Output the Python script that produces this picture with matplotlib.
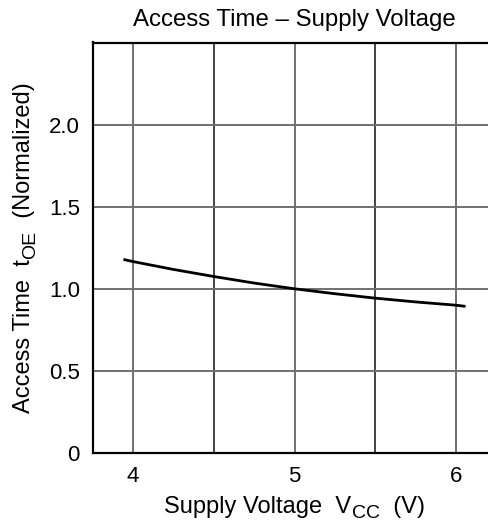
import matplotlib
matplotlib.use("Agg")
import matplotlib.pyplot as plt
from matplotlib.transforms import IdentityTransform

plt.rcParams['font.family'] = ['Liberation Sans', 'DejaVu Sans']

# data
vcc = [3.95, 4.0, 4.25, 4.5, 4.75, 5.0, 5.25, 5.5, 5.75, 6.0, 6.05]
t_oe = [1.177, 1.166, 1.118, 1.075, 1.035, 1.0, 0.970, 0.943, 0.920, 0.900, 0.894]

x_major = [4, 5, 6]
x_minor = [4.5, 5.5]
y_ticks = [0, 0.5, 1.0, 1.5, 2.0]
y_labels = ['0', '0.5', '1.0', '1.5', '2.0']
x_labels = ['4', '5', '6']

title = 'Access Time \u2013 Supply Voltage'
xlabel_parts = [('Supply Voltage  V', False), ('CC', True), ('  (V)', False)]
ylabel_parts = [('Access Time  t', False), ('OE', True), ('  (Normalized)', False)]

W, H = 489, 525
MAIN, SUB, SUBSHIFT = 17, 14, 5.5
fig = plt.figure(figsize=(W / 100, H / 100), dpi=100)
left, right = 92.5 / W, 496.5 / W
bottom, top = (H - 453) / H, (H - 42.5) / H
ax = fig.add_axes([left, bottom, right - left, top - bottom])

ax.set_xlim(3.75, 6.25)
ax.set_ylim(0, 2.5)

for xv in x_major:
    ax.axvline(xv, color='#707070', lw=1.4, zorder=1)
for xv in x_minor:
    ax.axvline(xv, color='#111111', lw=1.1, zorder=1)
for yv in y_ticks[1:]:
    ax.axhline(yv, color='#707070', lw=1.4, zorder=1)

ax.plot(vcc, t_oe, color='black', lw=2.0, zorder=3)

ax.set_xticks(x_major)
ax.set_xticklabels(x_labels)
ax.set_yticks(y_ticks)
ax.set_yticklabels(y_labels)
ax.tick_params(length=0, labelsize=16, pad=9, colors='black')

for s in ax.spines.values():
    s.set_linewidth(1.6)
    s.set_color('black')

ax.set_title(title, fontsize=17.3, pad=12)

renderer = fig.canvas.get_renderer()


def widths(parts):
    out = []
    for txt, sub in parts:
        t = fig.text(0, 0, txt, fontsize=SUB if sub else MAIN, transform=IdentityTransform())
        out.append(t.get_window_extent(renderer).width)
        t.remove()
    return out


def rich(parts, center, base, vertical=False):
    ws = widths(parts)
    pos = center - sum(ws) / 2
    for (txt, sub), w in zip(parts, ws):
        size = SUB if sub else MAIN
        off = SUBSHIFT if sub else 0
        if vertical:
            fig.text(base + off, pos, txt, fontsize=size, rotation=90,
                     rotation_mode='anchor', ha='left', va='baseline',
                     transform=IdentityTransform())
        else:
            fig.text(pos, base - off, txt, fontsize=size, ha='left', va='baseline',
                     transform=IdentityTransform())
        pos += w


xc = (92.5 + 496.5) / 2
yc = H - (453 + 42.5) / 2
rich(xlabel_parts, xc, 12)
rich(ylabel_parts, yc, 30, vertical=True)

fig.savefig('out.png', dpi=100)
